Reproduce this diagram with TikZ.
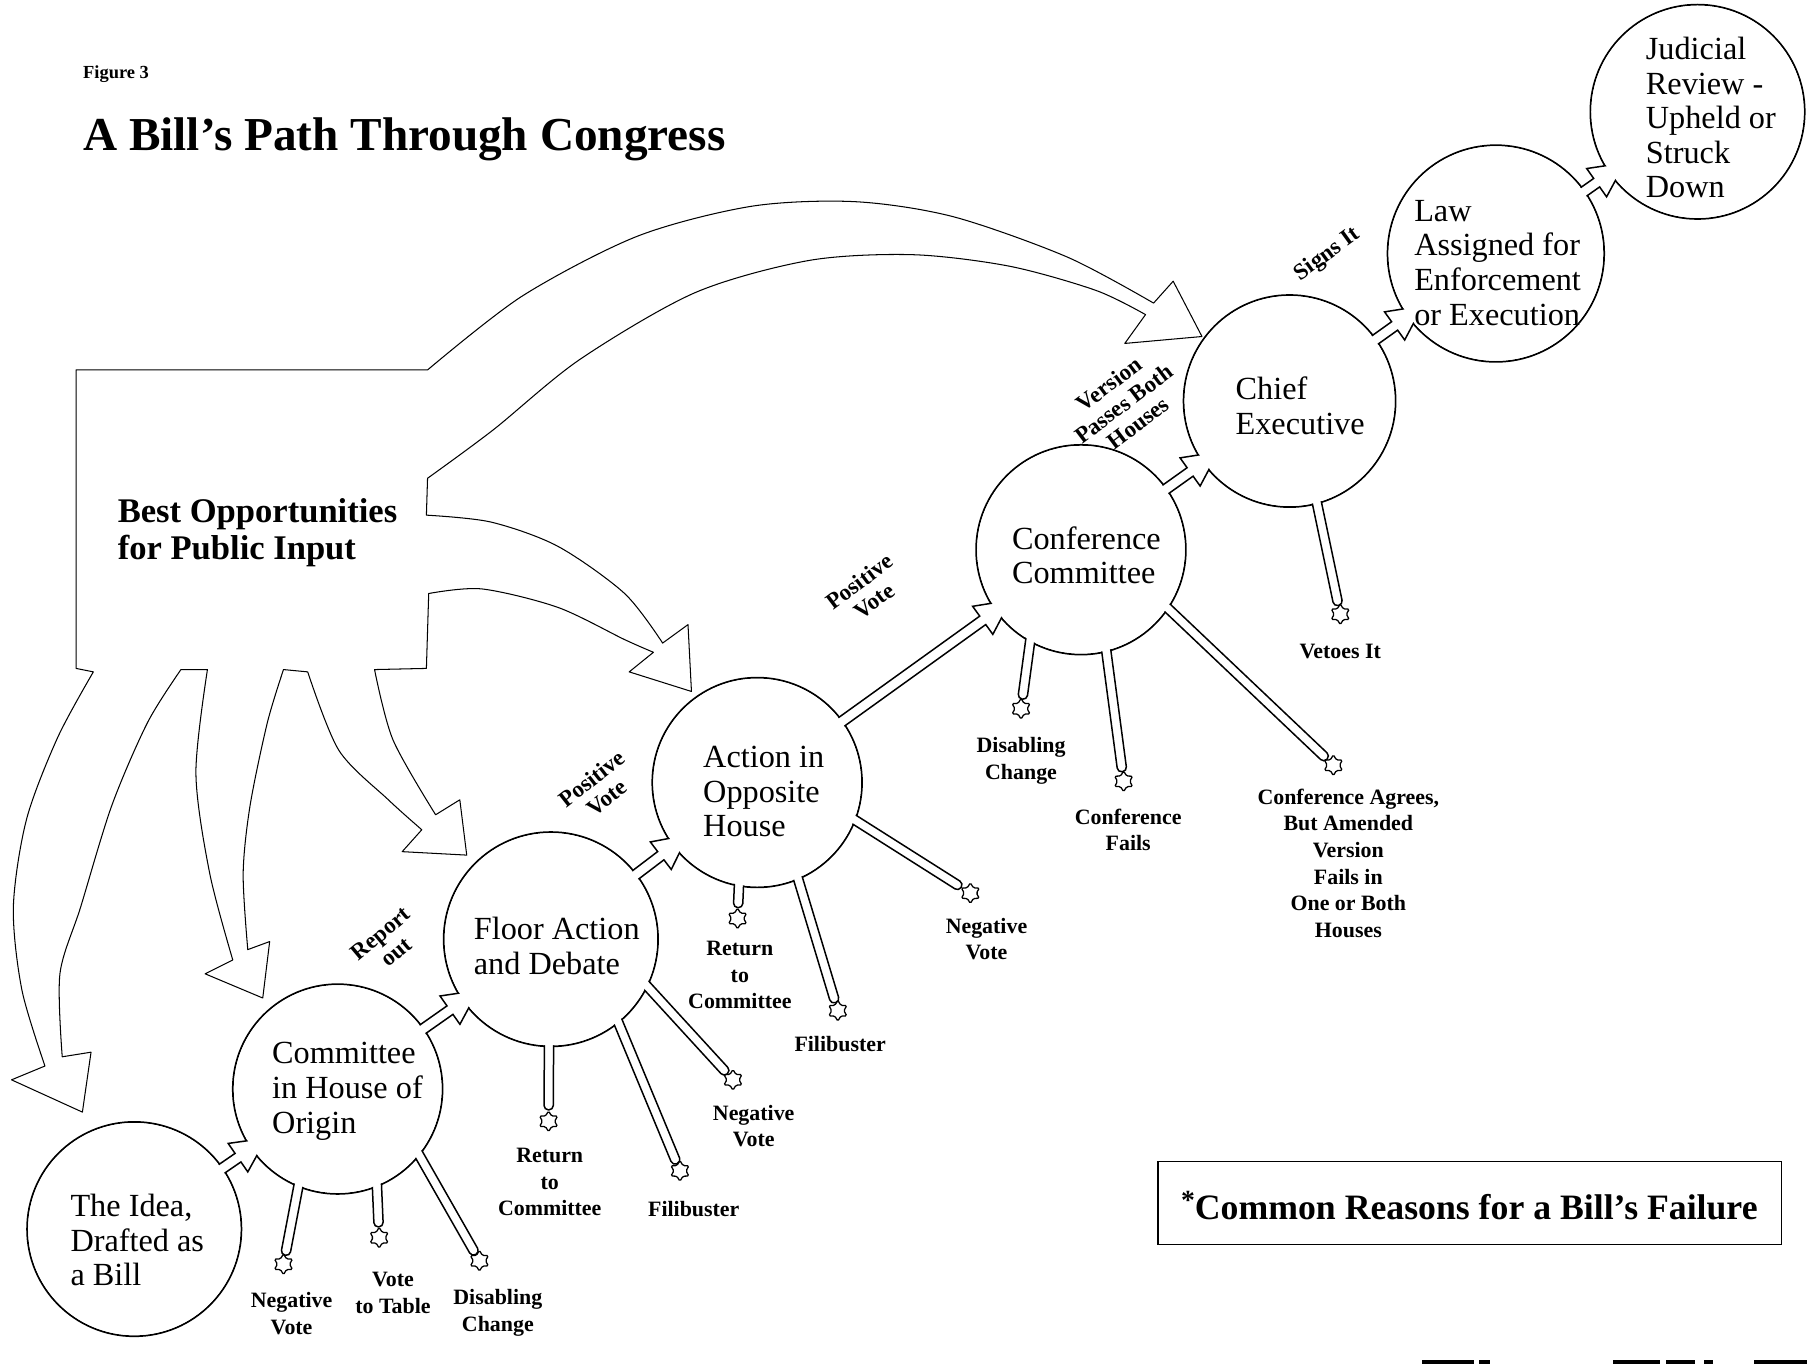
\documentclass[tikz,border=0pt]{standalone}
\usepackage{fontspec}
\setmainfont{Liberation Serif}
\usetikzlibrary{calc,shapes.geometric}

\tikzset{
  bubble/.style={circle, draw, line width=1.5pt, inner sep=0pt, outer sep=0pt},
  bubbletext/.style={anchor=west, align=left, inner sep=0pt, font=\fontsize{28}{30}\selectfont},
  pipe/.style={draw, fill=white, line width=1.3pt, line join=miter},
  failstar/.style={star, star points=6, star point ratio=1.7, minimum size=18pt, inner sep=0pt, outer sep=0pt, draw, line width=1.1pt, rounded corners=1.2pt},
  faillabel/.style={align=center, inner sep=0pt, font=\bfseries\fontsize{19}{23}\selectfont},
  pathlabel/.style={align=center, inner sep=0pt, font=\bfseries\fontsize{20}{21}\selectfont},
  inputshape/.style={draw, line width=0.9pt, line join=round},
}

% pipe with arrowhead from circle #1 into circle #2
\newcommand\billlink[2]{%
  \path (#1) -- (#2) coordinate[pos=0] (la) coordinate[pos=1] (lb);
  \coordinate (ls) at ($(la)!-10pt!(lb)$);
  \coordinate (lp) at ($(lb)!14pt!(la)$);
  \coordinate (lt) at ($(lb)!-16pt!(la)$);
  \filldraw[pipe] ($(ls)!4.5pt!90:(lb)$) -- ($(lp)!4.5pt!90:(lb)$) -- ($(lp)!15pt!90:(lb)$) -- (lt)
     -- ($(lp)!15pt!-90:(lb)$) -- ($(lp)!4.5pt!-90:(lb)$) -- ($(ls)!4.5pt!-90:(lb)$) -- cycle;
}
% stem from a point on a circle to a failure star
\newcommand\billstem[2]{%
  \path (#1) -- (#2) coordinate[pos=0] (sa) coordinate[pos=1] (sb);
  \coordinate (ss) at ($(sa)!-10pt!(sb)$);
  \coordinate (se) at ($(sb)!1pt!(sa)$);
  \filldraw[pipe, rounded corners=3.8pt] ($(ss)!4pt!90:(sb)$) -- ($(se)!4pt!-90:(ss)$)
     -- ($(se)!4pt!90:(ss)$) -- ($(ss)!4pt!-90:(sb)$) -- cycle;
}

\begin{document}
\begin{tikzpicture}[x=1pt,y=-1pt]
\useasboundingbox (0,0) rectangle (1568,1184);

% ---------- titles ----------
\node[anchor=base west, inner sep=0pt, font=\bfseries\fontsize{16}{18}\selectfont] (fig) at (72,68) {Figure 3};
\node[anchor=base west, inner sep=0pt, font=\bfseries\fontsize{41}{48}\selectfont] (title) at (72,131) {A Bill's Path Through Congress};

% ---------- public input shape ----------
\draw[inputshape] (66,321) -- (371,321)
  -- plot[smooth] coordinates {(371,321) (453,257) (553,205) (652,179) (742,175) (827,188) (926,223) (1001,263)}
  -- (1018,244) -- (1043,292) -- (976,298) -- (994,273)
  -- plot[smooth] coordinates {(994,273) (951,252) (876,231) (792,221) (702,226) (603,254) (503,312) (428,373) (371,415)}
  -- (370,447)
  -- plot[smooth] coordinates {(370,447) (426,453) (484,474) (542,515) (575,558)}
  -- (597,542) -- (600,600) -- (546,583) -- (567,566)
  -- plot[smooth] coordinates {(567,566) (542,555) (484,527) (418,511) (372,515)}
  -- (370,580) -- (325,581)
  -- plot[smooth] coordinates {(325,581) (341,642) (378,707)}
  -- (399,694) -- (405,742) -- (349,739) -- (366,720)
  -- plot[smooth] coordinates {(366,720) (337,694) (294,651) (267,583)}
  -- (246,581)
  -- plot[smooth] coordinates {(246,581) (232,627) (217,699) (211,758) (215,824)}
  -- (234,817) -- (228,866) -- (178,845) -- (202,833)
  -- plot[smooth] coordinates {(202,833) (182,758) (170,671) (180,581)}
  -- (157,581)
  -- plot[smooth] coordinates {(157,581) (128,627) (97,699) (70,787) (52,845) (54,917)}
  -- (79,913) -- (71.5,965) -- (10,937) -- (39,925)
  -- plot[smooth] coordinates {(39,925) (19,859) (11.6,787) (23,711) (50,640) (81,583)}
  -- (66,580) -- cycle;
\node[anchor=west, align=left, inner sep=0pt, font=\bfseries\fontsize{30}{32}\selectfont] (input) at (102,462) {Best Opportunities\\for Public Input};

% ---------- circles ----------
\node[bubble, minimum size=186pt] (idea)  at (116.5,1066.5) {};
\node[bubble, minimum size=182pt] (comm)  at (293,945) {};
\node[bubble, minimum size=186pt] (floor) at (478,815) {};
\node[bubble, minimum size=182pt] (opp)   at (657,679) {};
\node[bubble, minimum size=182pt] (conf)  at (938,477) {};
\node[bubble, minimum size=184pt] (chief) at (1119,348) {};
\node[bubble, minimum size=188pt] (law)   at (1298,220) {};
\node[bubble, minimum size=186pt] (jud)   at (1473,97) {};

% ---------- failure stars ----------
\node[failstar] (s1)  at (246,1097) {};
\node[failstar] (s2)  at (329,1074) {};
\node[failstar] (s3)  at (416,1094) {};
\node[failstar] (s4)  at (476,973) {};
\node[failstar] (s5)  at (590,1016) {};
\node[failstar] (s6)  at (636,937) {};
\node[failstar] (s7)  at (640,797) {};
\node[failstar] (s8)  at (727,877) {};
\node[failstar] (s9)  at (842,775) {};
\node[failstar] (s10) at (886,615) {};
\node[failstar] (s11) at (975,678) {};
\node[failstar] (s12) at (1157,664) {};
\node[failstar] (s13) at (1163,533) {};

% ---------- connectors ----------
\billlink{idea}{comm}
\billlink{comm}{floor}
\billlink{floor}{opp}
\billlink{opp}{conf}
\billlink{conf}{chief}
\billlink{chief}{law}
\billlink{law}{jud}

\billstem{comm.-112.5}{s1}
\billstem{comm.-68}{s2}
\billstem{comm.-39}{s3}
\billstem{floor.-91}{s4}
\billstem{floor.-51}{s5}
\billstem{floor.-26}{s6}
\billstem{opp.-100}{s7}
\billstem{opp.-67.5}{s8}
\billstem{opp.-21}{s9}
\billstem{conf.-119}{s10}
\billstem{conf.-76}{s11}
\billstem{conf.-34}{s12}
\billstem{chief.-75.5}{s13}

% ---------- clear circle interiors ----------
\fill[white] (idea.center)  circle[radius=92pt];
\fill[white] (comm.center)  circle[radius=90pt];
\fill[white] (floor.center) circle[radius=92pt];
\fill[white] (opp.center)   circle[radius=90pt];
\fill[white] (conf.center)  circle[radius=90pt];
\fill[white] (chief.center) circle[radius=91pt];
\fill[white] (law.center)   circle[radius=93pt];
\fill[white] (jud.center)   circle[radius=92pt];

% ---------- circle texts ----------
\node[bubbletext] (ideaT)  at (61,1076) {The Idea,\\Drafted as\\a Bill};
\node[bubbletext] (commT)  at (236,947) {Committee\\in House of\\Origin};
\node[bubbletext] (floorT) at (411,821) {Floor Action\\and Debate};
\node[bubbletext] (oppT)   at (610,687) {Action in\\Opposite\\House};
\node[bubbletext] (confT)  at (878,482) {Conference\\Committee};
\node[bubbletext] (chiefT) at (1072,352) {Chief\\Executive};
\node[bubbletext] (lawT)   at (1227,228) {Law\\Assigned for\\Enforcement\\or Execution};
\node[bubbletext] (judT)   at (1428,102) {Judicial\\Review -\\Upheld or\\Struck\\Down};

% ---------- path labels ----------
\node[pathlabel, rotate=40] (lreport)  at (337,818) {Report\\out};
\node[pathlabel, rotate=38] (lpos1)    at (520,684) {Positive\\Vote};
\node[pathlabel, rotate=37] (lpos2)    at (752,513) {Positive\\Vote};
\node[pathlabel, rotate=37] (lversion) at (975,350) {Version\\Passes Both\\Houses};
\node[pathlabel, rotate=36] (lsigns)   at (1152,221) {Signs It};

% ---------- failure labels ----------
\node[faillabel] (f1)  at (253,1140) {Negative\\Vote};
\node[faillabel] (f2)  at (341,1122) {Vote\\to Table};
\node[faillabel] (f3)  at (432,1139) {Disabling\\Change};
\node[faillabel] (f4)  at (477,1026) {Return\\to\\Committee};
\node[faillabel] (f5)  at (602,1049) {Filibuster};
\node[faillabel] (f6)  at (654,977)  {Negative\\Vote};
\node[faillabel] (f7)  at (642,846)  {Return\\to\\Committee};
\node[faillabel] (f8)  at (729,906)  {Filibuster};
\node[faillabel] (f9)  at (856,815)  {Negative\\Vote};
\node[faillabel] (f10) at (886,660)  {Disabling\\Change};
\node[faillabel] (f11) at (979,720)  {Conference\\Fails};
\node[faillabel] (f12) at (1170,749) {Conference Agrees,\\But Amended\\Version\\Fails in\\One or Both\\Houses};
\node[faillabel] (f13) at (1163,565) {Vetoes It};

% ---------- legend ----------
\node[draw, line width=1.3pt, minimum width=541pt, minimum height=72pt, inner sep=0pt] (legend) at (1275.5,1044) {};
\node[inner sep=0pt, font=\bfseries\fontsize{31}{34}\selectfont] (legendT) at (1275,1046)
  {\raisebox{9pt}{\fontsize{24}{24}\selectfont *}Common Reasons for a Bill's Failure};

% ---------- cut-off marks at bottom edge ----------
\fill (1234,1180) rectangle (1279,1184);
\fill (1283,1180) rectangle (1293,1184);
\fill (1400,1180) rectangle (1440,1184);
\fill (1446,1180) rectangle (1471,1184);
\fill (1479,1180) rectangle (1486,1184);
\fill (1522,1180) rectangle (1568,1184);
\end{tikzpicture}
\end{document}
